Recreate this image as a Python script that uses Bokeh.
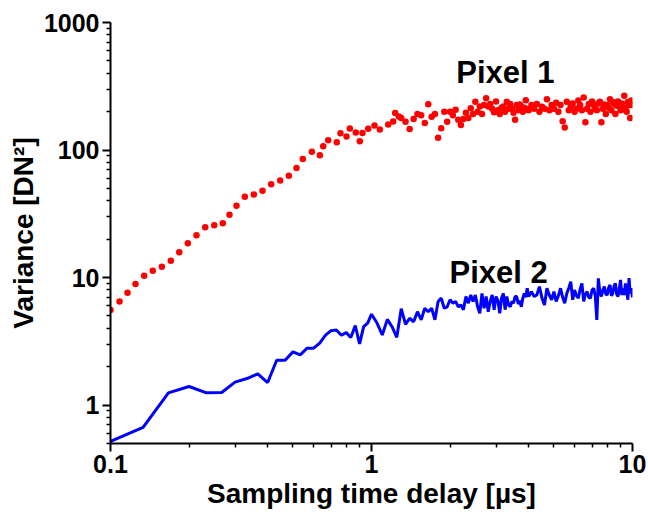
from bokeh.plotting import figure
from bokeh.models import FixedTicker, CustomJSTickFormatter, Label
from bokeh.embed import file_html
from bokeh.resources import INLINE

# ---- data ----
red_early_t = [0.1, 0.1083, 0.1162, 0.1247, 0.1346, 0.1452, 0.1573, 0.1702, 0.1834, 0.1978,
               0.2135, 0.2306, 0.2497, 0.2693, 0.2857, 0.3039, 0.327, 0.354, 0.3823, 0.4127,
               0.4469, 0.4821, 0.5161, 0.5455, 0.5907, 0.6339, 0.6531, 0.6826, 0.7362, 0.7606,
               0.8022, 0.8258, 0.8708, 0.902, 0.9237, 0.9714, 1.027, 1.076, 1.159, 1.211,
               1.233, 1.273]
red_early_v = [5.58, 6.48, 7.62, 8.91, 10.35, 11.32, 12.17, 13.56, 15.78, 18.56,
               21.44, 24.77, 25.68, 26.62, 31.1, 36.56, 43.0, 44.9, 47.9, 53.8,
               57.8, 62.8, 72.2, 84.9, 96.8, 91.2, 107.3, 119.5, 115.3, 135.6,
               127.8, 147.6, 137.4, 117.4, 136.3, 146.6, 155.8, 145.0, 158.7, 167.5,
               195.6, 183.2]

dense_t = [1.00, 1.05, 1.10, 1.15, 1.20, 1.25, 1.30, 1.35, 1.40, 1.45, 1.50, 1.55, 1.60, 1.65,
           1.70, 1.75, 1.80, 1.85, 1.90, 1.95, 2.00, 2.05, 2.10, 2.15, 2.20, 2.25, 2.30, 2.35,
           2.40, 2.45, 2.50, 2.55, 2.60, 2.65, 2.70, 2.75, 2.80, 2.85, 2.90, 2.95, 3.00, 3.05,
           3.10, 3.15, 3.20, 3.25, 3.30, 3.35, 3.40, 3.45, 3.50, 3.55, 3.60, 3.65, 3.70, 3.75,
           3.80, 3.85, 3.90, 3.95, 4.00,
           4.1, 4.2, 4.3, 4.4, 4.5, 4.6, 4.7, 4.8, 4.9, 5.0, 5.1, 5.2, 5.3, 5.4, 5.5, 5.6, 5.7,
           5.8, 5.9, 6.0, 6.1, 6.2, 6.3, 6.4, 6.5, 6.6, 6.7, 6.8, 6.9, 7.0, 7.1, 7.2, 7.3, 7.4,
           7.5, 7.6, 7.7, 7.8, 7.9, 8.0, 8.1, 8.2, 8.3, 8.4, 8.5, 8.6, 8.7, 8.8, 8.9, 9.0, 9.1,
           9.2, 9.3, 9.4, 9.5, 9.6, 9.7, 9.8, 9.9, 10.0]

# Pixel 1 values for dense_t starting at 1.30
red_dense_v = [178, 167, 146, 175, 192, 187, 163, 229, 182, 192, 125, 148, 200, 167,
               200, 187, 207, 173, 157, 175, 196, 178, 213, 192, 239, 200, 219, 192,
               225, 255, 219, 230, 211, 198, 240, 205, 192, 215, 219, 200, 239, 211,
               230, 211, 196, 173, 225, 205, 228, 219, 200, 215, 246, 210, 205,
               225, 211, 230, 200, 218, 211, 250, 205, 225, 211, 235, 200, 225, 168,
               150, 239, 205, 219, 232, 200, 211, 245, 225, 205, 258, 165, 211, 230,
               200, 240, 225, 210, 205, 232, 239, 165, 211, 228, 192, 225, 215, 250,
               205, 238, 230, 192, 222, 240, 219, 205, 232, 210, 267, 215, 200, 238,
               225, 178, 245, 225]

blue_early_t = [0.1, 0.1333, 0.1667, 0.2, 0.2333, 0.2667, 0.3, 0.3333, 0.3667, 0.4,
                0.4333, 0.4667, 0.5, 0.5333, 0.5667, 0.6, 0.6333, 0.6667, 0.7, 0.7333,
                0.7667, 0.8, 0.8333, 0.8667, 0.9, 0.9333, 0.9667]
blue_early_v = [0.52, 0.668, 1.248, 1.399, 1.248, 1.255, 1.514, 1.615, 1.758, 1.503,
                2.25, 2.25, 2.615, 2.477, 2.795, 2.795, 3.059, 3.533, 3.838, 3.887,
                3.533, 3.702, 3.384, 4.202, 3.02, 4.127, 4.4]
# Pixel 2 values for all of dense_t
blue_dense_v = [5.16, 4.4, 3.55, 4.7, 4.1, 3.4, 5.7, 4.3, 4.8, 4.5, 5.4, 4.66, 5.75, 5.4,
                5.75, 4.66, 6.5, 6.9, 5.75, 5.9, 6.7, 6.3, 6.5, 5.9, 6.1, 5.6, 7.1, 6.3,
                7.3, 6.5, 7.3, 5.9, 5.25, 7.5, 5.75, 7.1, 5.4, 6.5, 7.3, 5.6, 7.1, 6.6,
                5.25, 6.9, 7.5, 5.6, 7.1, 6.1, 5.9, 6.5, 6.3, 7.1, 7.1, 6.2, 6.6, 5.9,
                6.9, 7.5, 7.0, 8.25, 7.1,
                7.76, 7.1, 7.3, 8.5, 6.9, 6.1, 8.25, 7.3, 6.7, 7.76, 6.5, 7.2, 8.25, 7.0,
                6.3, 7.5, 8.3, 9.3, 6.7, 8.0, 7.2, 6.9, 8.1, 9.0, 6.5, 7.4, 7.76, 7.0,
                6.9, 8.0, 8.25, 7.2, 4.66, 9.87, 7.6, 7.1, 8.0, 8.5, 7.4, 7.3, 8.3, 8.75,
                7.2, 7.5, 8.6, 9.0, 7.4, 7.1, 8.1, 9.6, 7.3, 8.2, 7.3, 9.0, 7.8, 6.7,
                9.9, 7.5, 8.25, 7.0]

series_labels = ["Pixel 1", "Pixel 2"]
x_title = "Sampling time delay [µs]"
y_title = "Variance [DN²]"
x_major = [0.1, 1, 10]
y_major = [1, 10, 100, 1000]

red_t = red_early_t + dense_t[6:]
red_v = red_early_v + red_dense_v
blue_t = blue_early_t + dense_t
blue_v = blue_early_v + blue_dense_v

FONT = "Liberation Sans"

p = figure(width=648, height=520, x_axis_type="log", y_axis_type="log",
           x_range=(0.1, 10), y_range=(0.5, 1000),
           output_backend="svg", toolbar_location=None,
           min_border_left=110, min_border_right=16, min_border_top=22, min_border_bottom=77)
p.outline_line_color = None
p.grid.visible = False
p.background_fill_color = "white"
p.border_fill_color = "white"

p.line(blue_t, blue_v, line_color="#0000FF", line_width=3)
p.scatter(red_t, red_v, size=6.5, fill_color="#FF0000", line_color=None)

x_minor = [m * d for d in (0.1, 1) for m in range(2, 10)]
y_minor = [m * d for d in (0.1, 1, 10, 100) for m in range(2, 10)]

fmt = CustomJSTickFormatter(code="return String(Math.round(tick*1000)/1000);")
p.xaxis[0].ticker = FixedTicker(ticks=x_major, minor_ticks=x_minor)
p.yaxis[0].ticker = FixedTicker(ticks=y_major, minor_ticks=y_minor)
for ax in (p.xaxis[0], p.yaxis[0]):
    ax.formatter = fmt
    ax.axis_line_width = 2
    ax.axis_line_color = "black"
    ax.major_tick_line_width = 2
    ax.minor_tick_line_width = 1.5
    ax.major_tick_in = 0
    ax.major_tick_out = 8
    ax.minor_tick_in = 0
    ax.minor_tick_out = 4
    ax.major_label_text_font = FONT
    ax.major_label_text_font_style = "bold"
    ax.major_label_text_font_size = "25px"
    ax.major_label_text_color = "black"
    ax.axis_label_text_font = FONT
    ax.axis_label_text_font_style = "bold"
    ax.axis_label_text_font_size = "28px"
    ax.axis_label_text_color = "black"
    ax.major_label_standoff = 3
    ax.axis_label_standoff = 2

p.xaxis.axis_label = x_title
p.yaxis.axis_label = y_title

p.add_layout(Label(x=3.26, y=404, text=series_labels[0], text_align="center",
                   text_baseline="alphabetic", text_font=FONT, text_font_style="bold",
                   text_font_size="31px", text_color="black"))
p.add_layout(Label(x=3.07, y=11.05, text=series_labels[1], text_align="center",
                   text_baseline="alphabetic", text_font=FONT, text_font_style="bold",
                   text_font_size="31px", text_color="black"))

open("out.html", "w").write(file_html(p, INLINE))
